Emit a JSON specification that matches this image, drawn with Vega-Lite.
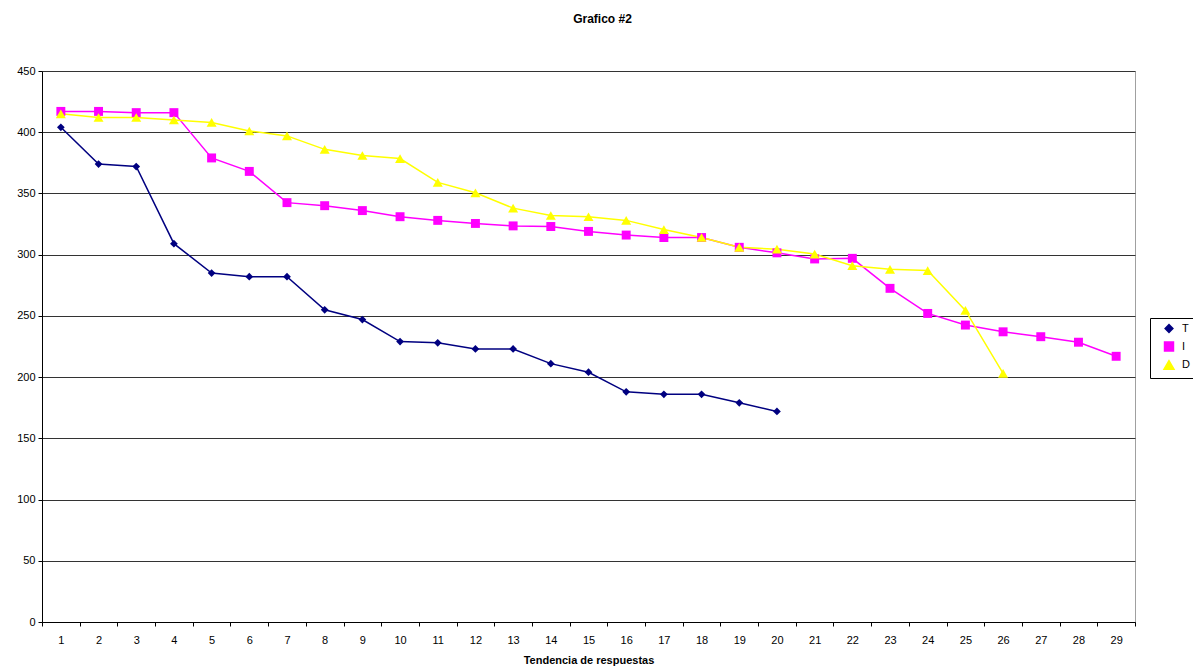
{
  "$schema": "https://vega.github.io/schema/vega-lite/v6.json",
  "width": 1093,
  "height": 551,
  "autosize": {"type": "none"},
  "padding": {"left": 42, "top": 71, "right": 58, "bottom": 45},
  "background": "white",
  "title": {
    "text": "Grafico #2",
    "font": "Liberation Sans",
    "fontSize": 12,
    "fontWeight": "bold",
    "color": "black",
    "anchor": "middle",
    "frame": "group",
    "dx": 14,
    "offset": 39
  },
  "config": {
    "view": {"stroke": "#a0a0a0", "strokeWidth": 1},
    "axis": {
      "labelFont": "Liberation Sans",
      "labelFontSize": 11,
      "labelColor": "black",
      "titleFont": "Liberation Sans",
      "titleFontSize": 11,
      "titleFontWeight": "bold",
      "titleColor": "black",
      "domainColor": "black",
      "tickColor": "black"
    }
  },
  "data": {
    "values": [
      {"x": 1, "serie": "T", "v": 404},
      {"x": 2, "serie": "T", "v": 374},
      {"x": 3, "serie": "T", "v": 372},
      {"x": 4, "serie": "T", "v": 309},
      {"x": 5, "serie": "T", "v": 285},
      {"x": 6, "serie": "T", "v": 282},
      {"x": 7, "serie": "T", "v": 282},
      {"x": 8, "serie": "T", "v": 255},
      {"x": 9, "serie": "T", "v": 247},
      {"x": 10, "serie": "T", "v": 229},
      {"x": 11, "serie": "T", "v": 228},
      {"x": 12, "serie": "T", "v": 223},
      {"x": 13, "serie": "T", "v": 223},
      {"x": 14, "serie": "T", "v": 211},
      {"x": 15, "serie": "T", "v": 204},
      {"x": 16, "serie": "T", "v": 188},
      {"x": 17, "serie": "T", "v": 186},
      {"x": 18, "serie": "T", "v": 186},
      {"x": 19, "serie": "T", "v": 179},
      {"x": 20, "serie": "T", "v": 172},
      {"x": 1, "serie": "I", "v": 417},
      {"x": 2, "serie": "I", "v": 417},
      {"x": 3, "serie": "I", "v": 416},
      {"x": 4, "serie": "I", "v": 416},
      {"x": 5, "serie": "I", "v": 379},
      {"x": 6, "serie": "I", "v": 368},
      {"x": 7, "serie": "I", "v": 342.5},
      {"x": 8, "serie": "I", "v": 340},
      {"x": 9, "serie": "I", "v": 336},
      {"x": 10, "serie": "I", "v": 331},
      {"x": 11, "serie": "I", "v": 328},
      {"x": 12, "serie": "I", "v": 325.5},
      {"x": 13, "serie": "I", "v": 323.5},
      {"x": 14, "serie": "I", "v": 323},
      {"x": 15, "serie": "I", "v": 319},
      {"x": 16, "serie": "I", "v": 316},
      {"x": 17, "serie": "I", "v": 314},
      {"x": 18, "serie": "I", "v": 314},
      {"x": 19, "serie": "I", "v": 306},
      {"x": 20, "serie": "I", "v": 301.5},
      {"x": 21, "serie": "I", "v": 296.5},
      {"x": 22, "serie": "I", "v": 297},
      {"x": 23, "serie": "I", "v": 272.5},
      {"x": 24, "serie": "I", "v": 252},
      {"x": 25, "serie": "I", "v": 242.5},
      {"x": 26, "serie": "I", "v": 237},
      {"x": 27, "serie": "I", "v": 233},
      {"x": 28, "serie": "I", "v": 228.5},
      {"x": 29, "serie": "I", "v": 217},
      {"x": 1, "serie": "D", "v": 415},
      {"x": 2, "serie": "D", "v": 412},
      {"x": 3, "serie": "D", "v": 412},
      {"x": 4, "serie": "D", "v": 410},
      {"x": 5, "serie": "D", "v": 408},
      {"x": 6, "serie": "D", "v": 401},
      {"x": 7, "serie": "D", "v": 397},
      {"x": 8, "serie": "D", "v": 386},
      {"x": 9, "serie": "D", "v": 381},
      {"x": 10, "serie": "D", "v": 378.5},
      {"x": 11, "serie": "D", "v": 359},
      {"x": 12, "serie": "D", "v": 350.5},
      {"x": 13, "serie": "D", "v": 338},
      {"x": 14, "serie": "D", "v": 332},
      {"x": 15, "serie": "D", "v": 331},
      {"x": 16, "serie": "D", "v": 328},
      {"x": 17, "serie": "D", "v": 320.5},
      {"x": 18, "serie": "D", "v": 314},
      {"x": 19, "serie": "D", "v": 306},
      {"x": 20, "serie": "D", "v": 304.5},
      {"x": 21, "serie": "D", "v": 300.5},
      {"x": 22, "serie": "D", "v": 291},
      {"x": 23, "serie": "D", "v": 288},
      {"x": 24, "serie": "D", "v": 287},
      {"x": 25, "serie": "D", "v": 254.5},
      {"x": 26, "serie": "D", "v": 203}
    ]
  },
  "encoding": {
    "x": {
      "field": "x",
      "type": "ordinal",
      "bandPosition": 0.5,
      "scale": {"type": "band", "paddingInner": 0, "paddingOuter": 0, "domain": [1,2,3,4,5,6,7,8,9,10,11,12,13,14,15,16,17,18,19,20,21,22,23,24,25,26,27,28,29]},
      "axis": {
        "title": "Tendencia de respuestas",
        "labelAngle": 0,
        "tickBand": "extent",
        "tickSize": 4,
        "labelPadding": 8,
        "titlePadding": 9,
        "grid": false
      }
    },
    "y": {
      "field": "v",
      "type": "quantitative",
      "scale": {"domain": [0, 450], "nice": false},
      "axis": {
        "title": null,
        "values": [0, 50, 100, 150, 200, 250, 300, 350, 400, 450],
        "tickSize": 4,
        "labelPadding": 3,
        "grid": true,
        "gridColor": "#333333",
        "gridOpacity": 1,
        "gridWidth": 1
      }
    },
    "color": {
      "field": "serie",
      "type": "nominal",
      "scale": {"domain": ["T", "I", "D"], "range": ["#000080", "#FF00FF", "#FFFF00"]},
      "legend": {
        "title": null,
        "orient": "none",
        "legendX": 1108,
        "legendY": 247,
        "strokeColor": "black",
        "fillColor": "white",
        "padding": 5,
        "labelFont": "Liberation Sans",
        "labelFontSize": 11,
        "labelColor": "black",
        "rowPadding": 3,
        "symbolOffset": 8,
        "labelOffset": 7,
        "symbolSize": 70
      }
    }
  },
  "layer": [
    {
      "mark": {"type": "line", "strokeWidth": 1.5},
      "encoding": {}
    },
    {
      "mark": {"type": "point", "filled": true, "opacity": 1},
      "encoding": {
        "shape": {
          "field": "serie",
          "type": "nominal",
          "scale": {"domain": ["T", "I", "D"], "range": ["diamond", "square", "triangle-up"]},
          "legend": null
        },
        "size": {
          "field": "serie",
          "type": "nominal",
          "scale": {"domain": ["T", "I", "D"], "range": [60, 100, 80]},
          "legend": null
        }
      }
    }
  ]
}
